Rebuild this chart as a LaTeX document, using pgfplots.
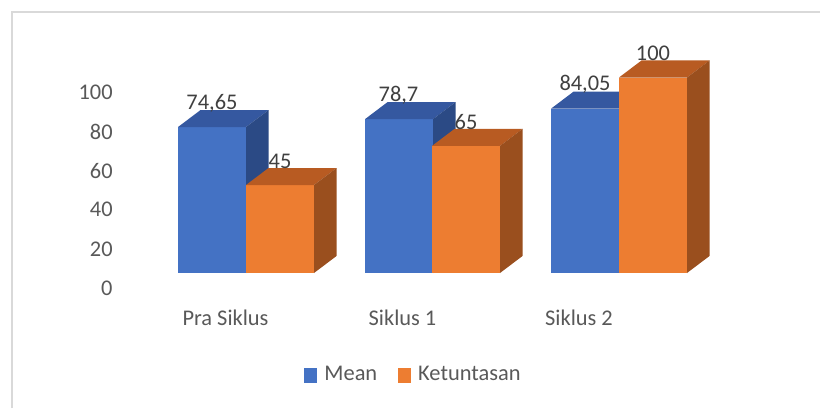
\documentclass[border=0pt]{standalone}
\usepackage{pgfplots}
\pgfplotsset{compat=1.18}
\usepackage{fontspec}
\setmainfont{Carlito}
\definecolor{blueF}{HTML}{4472C4}
\definecolor{blueT}{HTML}{3558A0}
\definecolor{blueS}{HTML}{2B4A85}
\definecolor{orF}{HTML}{ED7D31}
\definecolor{orT}{HTML}{B85B22}
\definecolor{orS}{HTML}{9A4F1E}
\definecolor{tickgray}{HTML}{595959}
\definecolor{lblgray}{HTML}{404040}
\definecolor{framegray}{HTML}{D9D9D9}

% x0 (px), value, front, top, side
\newcommand{\barthreed}[5]{%
 \pgfmathsetmacro\xb{#1+68}%
 \pgfmathsetmacro\xc{#1+90.5}%
 \pgfmathsetmacro\xd{#1+22.5}%
 \pgfmathsetmacro\yt{#2+8.7}%
 \addplot[fill=#3, draw=none, forget plot] coordinates {(#1,0) (\xb,0) (\xb,#2) (#1,#2)} -- cycle;
 \addplot[fill=#4, draw=none, forget plot] coordinates {(#1,#2) (\xb,#2) (\xc,\yt) (\xd,\yt)} -- cycle;
 \addplot[fill=#5, draw=none, forget plot] coordinates {(\xb,0) (\xc,8.7) (\xc,\yt) (\xb,#2)} -- cycle;
}

\begin{document}
\begin{tikzpicture}
\useasboundingbox (0,0) rectangle (410pt,204pt);
\fill[white] (0,0) rectangle (410pt,204pt);
\draw[framegray, line width=0.8pt] (6pt,0) -- (6pt,198pt) -- (411pt,198pt);
\begin{axis}[
  at={(0pt,67.5pt)}, anchor=south west,
  x=0.5pt, y=0.9775pt,
  xmin=0, xmax=820, ymin=0, ymax=120,
  enlargelimits=false, clip=false,
  axis line style={draw=none},
  major tick style={draw=none},
  major tick length=0pt,
  /pgf/number format/assume math mode=true,
  /pgf/number format/use comma,
  /pgf/number format/fixed,
  /pgf/number format/precision=2,
  ytick={0,20,40,60,80,100},
  yticklabel style={anchor=east, inner sep=0pt, xshift=56.5pt, yshift=-7.5pt,
    font=\fontsize{11.2}{13}\selectfont, text=tickgray},
  xtick={225.5,402.5,579},
  xticklabels={Pra Siklus, Siklus 1, Siklus 2},
  xticklabel style={anchor=center, inner sep=0pt, yshift=-22.5pt,
    font=\fontsize{11.2}{13}\selectfont, text=tickgray},
  legend columns=2,
  legend style={at={(axis cs:413,-52.2)}, anchor=center, draw=none, fill=none,
    font=\fontsize{11.2}{13}\selectfont, text=tickgray,
    nodes={inner sep=0.5pt},
    /tikz/every odd column/.append style={column sep=3pt},
    /tikz/every even column/.append style={column sep=10pt}},
  legend image code/.code={\fill[#1, draw=none] (0pt,-3.75pt) rectangle (6.5pt,3.75pt);},
]
\barthreed{178}{74.65}{blueF}{blueT}{blueS}
\barthreed{246}{45}{orF}{orT}{orS}
\barthreed{365}{78.7}{blueF}{blueT}{blueS}
\barthreed{432}{65}{orF}{orT}{orS}
\barthreed{551}{84.05}{blueF}{blueT}{blueS}
\barthreed{619}{100}{orF}{orT}{orS}
\addplot[draw=none, forget plot, point meta=y, nodes near coords,
  nodes near coords style={anchor=center, yshift=12pt, inner sep=0pt,
    font=\fontsize{11.2}{13}\selectfont, text=lblgray}]
  coordinates {(212,74.65) (280,45) (398.5,78.7) (466,65) (585,84.05) (653,100)};
\addlegendimage{fill=blueF, draw=none}
\addlegendentry{Mean}
\addlegendimage{fill=orF, draw=none}
\addlegendentry{Ketuntasan}
\end{axis}
\end{tikzpicture}
\end{document}
